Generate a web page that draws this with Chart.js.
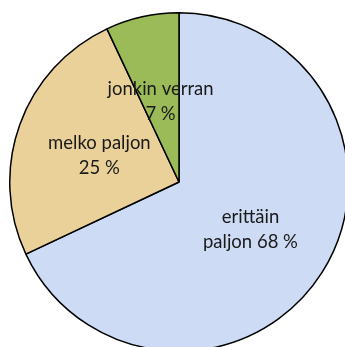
<!DOCTYPE html>
<html>
<head>
<meta charset="utf-8">
<script src="https://cdn.jsdelivr.net/npm/chart.js@4/dist/chart.umd.min.js"></script>
<style>
html,body{margin:0;padding:0;background:#fff;width:345px;height:347px;overflow:hidden;}
#wrap{position:absolute;left:8px;top:11px;width:342px;height:342px;}
</style>
</head>
<body>
<div id="wrap"><canvas id="c" width="342" height="342"></canvas></div>
<script>
const categories = ["erittäin paljon", "melko paljon", "jonkin verran"];
const values = [68, 25, 7];
const labelLines = [["erittäin", "paljon 68 %"], ["melko paljon", "25 %"], ["jonkin verran", "7 %"]];
const colors = ["#cddbf5", "#ead19a", "#9bbb59"];

const labelPlugin = {
  id: "sliceLabels",
  afterDatasetsDraw(chart) {
    const ctx = chart.ctx;
    const meta = chart.getDatasetMeta(0);
    ctx.save();
    ctx.font = "18.5px Lato, 'Open Sans', sans-serif";
    ctx.fillStyle = "#1a1a1a";
    ctx.textAlign = "center";
    ctx.textBaseline = "middle";
    meta.data.forEach((arc, i) => {
      const p = arc.getProps(["x","y","startAngle","endAngle","outerRadius"], true);
      const mid = (p.startAngle + p.endAngle) / 2;
      const r = p.outerRadius * 0.5;
      const cx = p.x + Math.cos(mid) * r;
      const cy = p.y + Math.sin(mid) * r + 2;
      const lines = labelLines[i];
      const lh = 25;
      lines.forEach((t, k) => {
        ctx.fillText(t, cx, cy + (k - (lines.length - 1) / 2) * lh);
      });
    });
    ctx.restore();
  }
};

new Chart(document.getElementById("c"), {
  type: "pie",
  data: {
    labels: categories,
    datasets: [{
      data: values,
      backgroundColor: colors,
      borderColor: "#000",
      borderWidth: 1.5,
      borderAlign: "center"
    }]
  },
  options: {
    responsive: false,
    animation: false,
    layout: { padding: 1 },
    plugins: { legend: { display: false }, tooltip: { enabled: false } }
  },
  plugins: [labelPlugin]
});
</script>
</body>
</html>
